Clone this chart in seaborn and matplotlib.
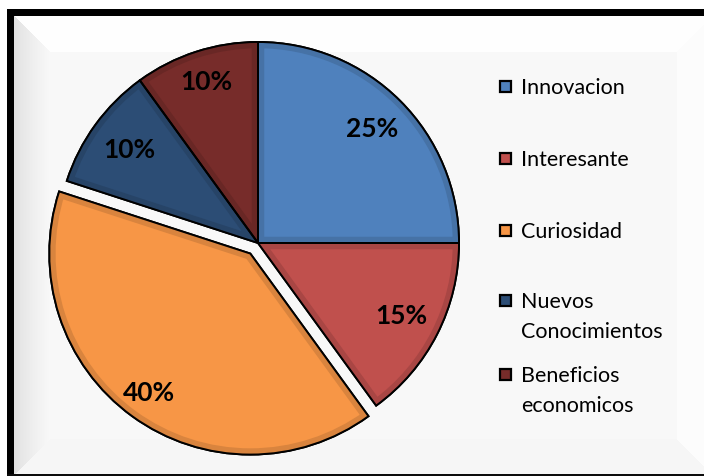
import numpy as np
import matplotlib
matplotlib.use("Agg")
import matplotlib.pyplot as plt
from matplotlib.patches import Rectangle, Wedge
import seaborn as sns

# Survey answers: reasons for interest
categories = ["Innovacion", "Interesante", "Curiosidad",
              "Nuevos Conocimientos", "Beneficios economicos"]
legend_lines = [["Innovacion"], ["Interesante"], ["Curiosidad"],
                ["Nuevos", "Conocimientos"], ["Beneficios", "economicos"]]
values = [25, 15, 40, 10, 10]
explode = [0, 0, 0.065, 0, 0]

sns.set_style("white")
colors = sns.color_palette(["#4F81BD", "#C0504D", "#F79646", "#2C4D75", "#772C2A"])
plt.rcParams["font.family"] = ["Lato", "DejaVu Sans"]

W, H = 704, 476
fig = plt.figure(figsize=(W / 100, H / 100), dpi=100)
fig.patch.set_facecolor("white")

# ---- framed, bevelled background panel ----
img = np.ones((H, W, 3))
x0, y0, y1 = 14, 16, 474           # inner panel (left, top, bottom); right side runs off
bev = 36
yy, xx = np.mgrid[0:H, 0:W].astype(float)
base_level = 0.976
dl = xx - x0
dt = yy - y0
db = y1 - yy
dr = (W + 8) - xx
dmin = np.minimum.reduce([dl, dt, db, dr])
inner = (xx >= x0) & (yy >= y0) & (yy < y1)
val = np.full((H, W), base_level)
# left bevel: shaded toward the frame
m = inner & (dl == dmin) & (dl < bev)
val[m] = 0.88 + (base_level - 0.88) * (dl[m] / bev) ** 0.8
# top bevel: near white
m = inner & (dt == dmin) & (dt < bev) & ~(dl == dmin)
val[m] = 0.998
# bottom bevel
m = inner & (db == dmin) & (db < bev) & ~(dl == dmin)
val[m] = 0.965
# right bevel
m = inner & (dr == dmin) & (dr < bev)
val[m] = 0.99
for c in range(3):
    ch = img[:, :, c]
    ch[inner] = val[inner]
# black frame: top, left, bottom
img[9:16, 7:, :] = 0
img[9:476, 7:14, :] = 0
img[474:476, 7:, :] = 0.05

bg = fig.add_axes([0, 0, 1, 1])
bg.imshow(img, aspect="auto", interpolation="nearest", extent=(0, W, H, 0))
bg.set_xlim(0, W)
bg.set_ylim(H, 0)
bg.axis("off")

# ---- pie ----
cx, cy, R = 258, 243, 201
lim = 1.15
side = 2 * lim * R
ax = fig.add_axes([(cx - side / 2) / W, (H - cy - side / 2) / H, side / W, side / H])
wedges, texts, autotexts = ax.pie(
    values, colors=colors, explode=explode, startangle=90, counterclock=False,
    autopct="%1.0f%%", pctdistance=0.8,
    wedgeprops=dict(edgecolor="black", linewidth=1.4),
    textprops=dict(fontsize=19, fontweight="bold", color="black"),
)
ax.set_xlim(-lim, lim)
ax.set_ylim(-lim, lim)
ax.set_aspect("equal")
ax.axis("off")

# percentage labels sit a little further out on the top/bottom slices
label_dist = [0.8, 0.8, 0.86, 0.79, 0.84]
for w, t, d in zip(wedges, autotexts, label_dist):
    mid = np.deg2rad((w.theta1 + w.theta2) / 2)
    t.set_position((w.center[0] + d * w.r * np.cos(mid),
                    w.center[1] + d * w.r * np.sin(mid)))
    t.set_zorder(5)

# inner shading band along each slice's edges
for w, col in zip(wedges, colors):
    dark = tuple(np.array(col) * 0.88)
    band = Wedge(w.center, w.r, w.theta1, w.theta2, facecolor="none",
                 edgecolor=dark, linewidth=9, zorder=w.get_zorder() + 0.1)
    ax.add_patch(band)
    band.set_clip_path(w)
    outline = Wedge(w.center, w.r, w.theta1, w.theta2, facecolor="none",
                    edgecolor="black", linewidth=1.4, zorder=w.get_zorder() + 0.2)
    ax.add_patch(outline)

# ---- legend ----
rows = [86, 158, 230, 300, 374]
line_gap = 30
for lines, col, ry in zip(legend_lines, colors, rows):
    fig.patches.append(Rectangle((500 / W, (H - ry - 6) / H), 11 / W, 11 / H,
                                 transform=fig.transFigure, facecolor=col,
                                 edgecolor="black", linewidth=1.6))
    for k, line in enumerate(lines):
        fig.text(521 / W, (H - ry - k * line_gap) / H, line, fontsize=15.5,
                 color="black", ha="left", va="center_baseline")

fig.savefig("out.png", dpi=100)
